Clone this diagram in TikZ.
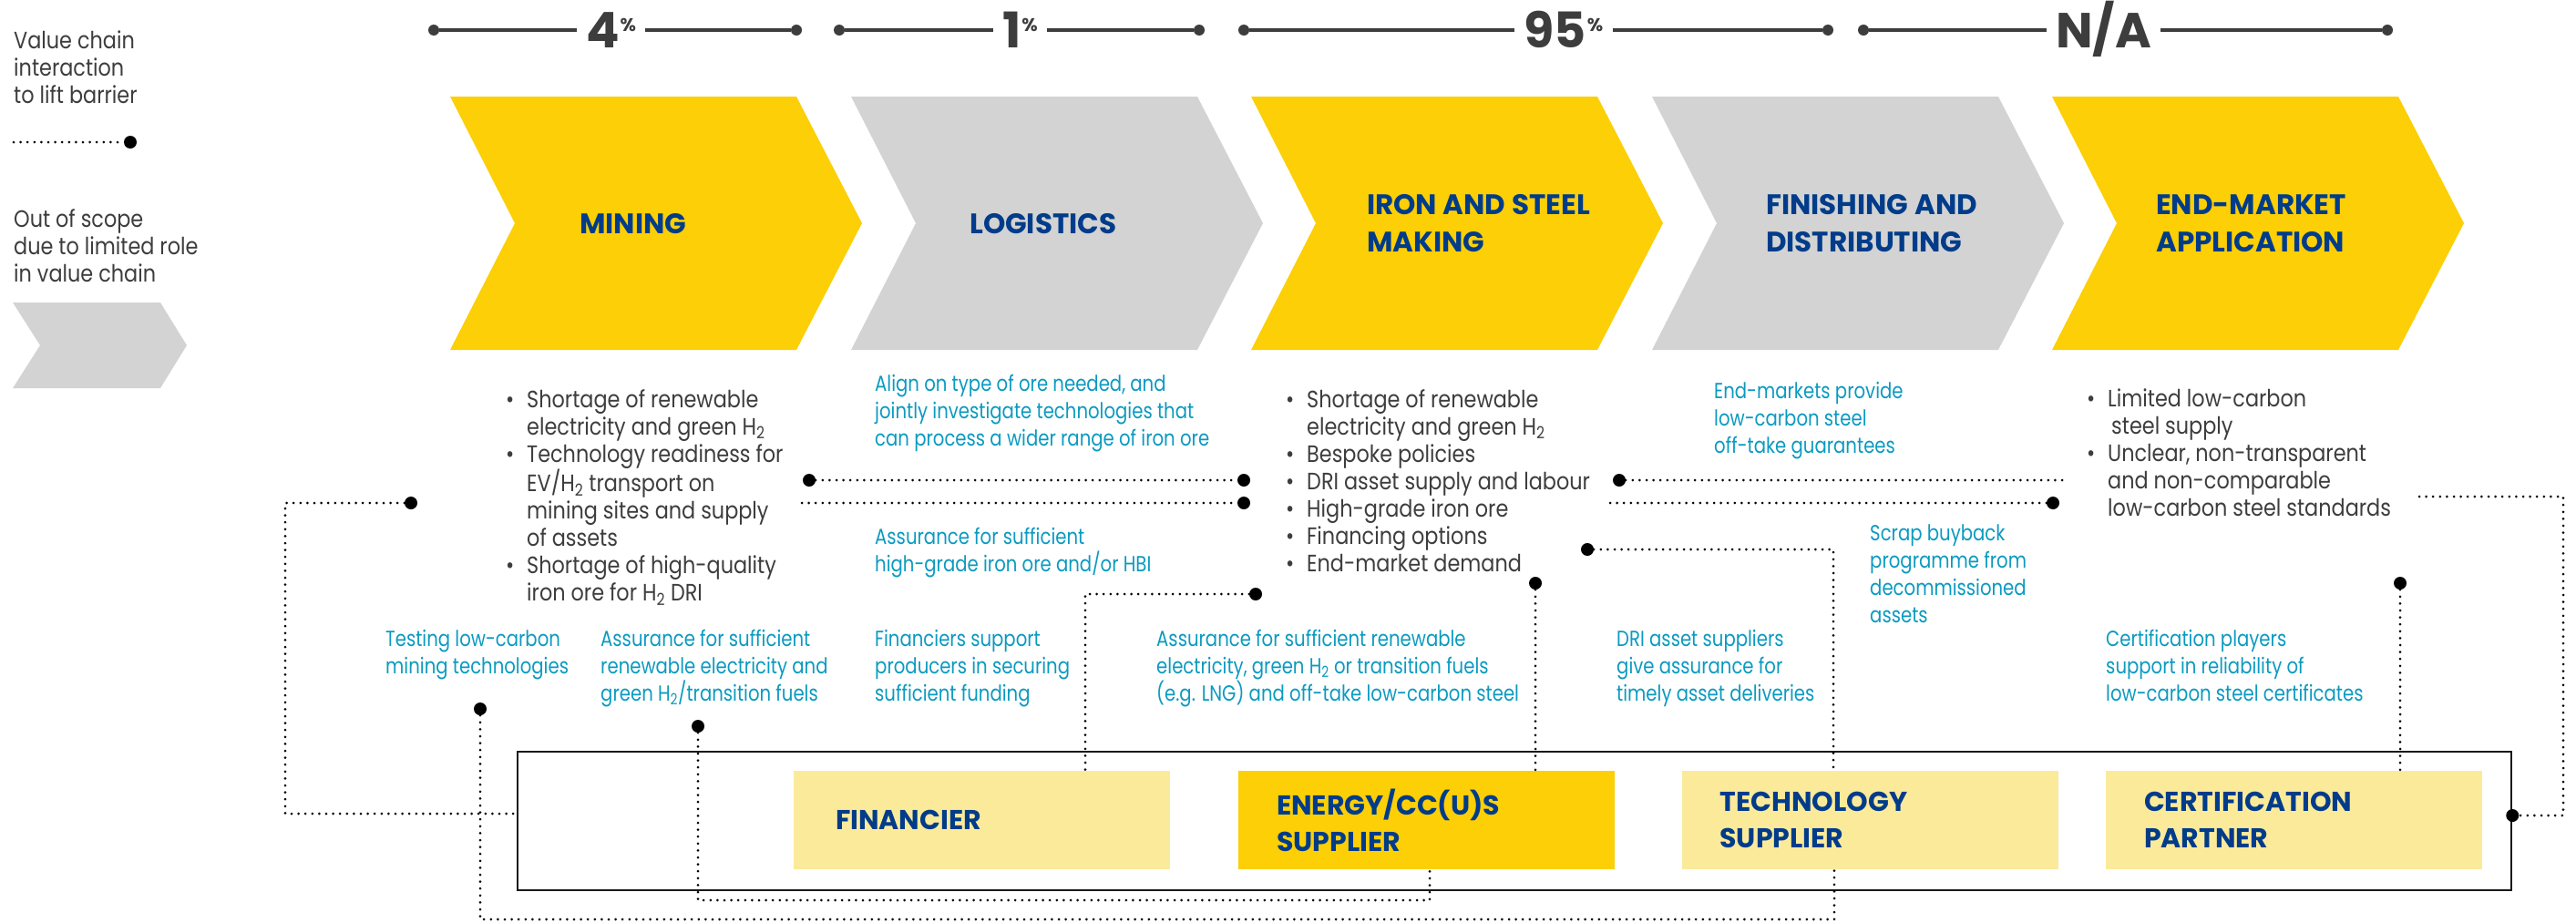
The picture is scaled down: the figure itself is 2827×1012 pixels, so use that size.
\documentclass[tikz,border=0pt]{standalone}
\usepackage{fontspec}
\setmainfont{Poppins}[FakeStretch=0.86]
\newfontfamily\hdfont{Poppins}
\newfontfamily\bluefont{Poppins}[FakeStretch=0.82]
\usetikzlibrary{calc}
\definecolor{cyel}{HTML}{FCCF06}
\definecolor{cgray}{HTML}{D3D3D3}
\definecolor{clyel}{HTML}{FBEA9A}
\definecolor{cblue}{HTML}{003C8A}
\definecolor{cteal}{HTML}{0B9AC0}
\definecolor{ctext}{HTML}{3D3D3D}
\newcommand\mychev[2]{\fill[#2] (#1,106) -- ++(380,0) -- ++(72,139) -- ++(-72,139) -- ++(-380,0) -- ++(71,-139) -- cycle;}
\newcommand\bl{\makebox[23pt][l]{\textbullet}}
\newcommand\ind{\hspace*{23pt}}
\newcommand\pct{{\hdfont\bfseries\fontsize{20}{20}\selectfont\hspace{1pt}\raisebox{18pt}{\%}}}
\begin{document}
\begin{tikzpicture}[x=1pt,y=-1pt,
  dotline/.style={line width=3pt, dash pattern=on 0pt off 7.6pt, line cap=round, draw=black},
  dotend/.style={circle, fill=black, inner sep=0pt, minimum size=14pt},
  topdot/.style={circle, fill=ctext, inner sep=0pt, minimum size=12pt},
  topline/.style={line width=4pt, draw=ctext},
  numlbl/.style={font=\hdfont\bfseries\fontsize{54}{54}\selectfont, text=ctext, inner xsep=10pt, inner ysep=0pt, anchor=base},
  graytxt/.style={font=\fontsize{26}{30}\selectfont, text=ctext, align=left, inner sep=0pt, anchor=north west},
  bluetxt/.style={font=\bluefont\fontsize{24}{30}\selectfont, text=cteal, align=left, inner sep=0pt, anchor=north west},
  stagelbl/.style={font=\hdfont\bfseries\fontsize{31}{41}\selectfont, text=cblue, align=left, inner sep=0pt, anchor=west},
  actor/.style={rectangle, minimum height=108pt, text width=329pt, inner xsep=42pt, inner ysep=0pt, align=left, font=\hdfont\bfseries\fontsize{30}{40}\selectfont, text=cblue},
]
\useasboundingbox (0,0) rectangle (2827,1012);

% ---------- legend ----------
\node[graytxt] (leg1) at (15,34) {Value chain\\interaction\\to lift barrier};
\coordinate (lega) at (15,156);
\node[dotend] (legdot) at (143,156) {};
\draw[dotline] (lega) -- (legdot);
\node[graytxt] (leg2) at (15,229) {Out of scope\\due to limited role\\in value chain};
\fill[cgray] (14,332) -- (176,332) -- (205,379) -- (176,426) -- (14,426) -- (44,379) -- cycle;

% ---------- top share labels ----------
\node[numlbl] (p1) at (670.5,52) {4\pct};
\node[topdot] (t1a) at (476,33) {};
\node[topdot] (t1b) at (874,33) {};
\draw[topline] (t1a) -- (t1a -| p1.west);
\draw[topline] (p1.east |- t1b) -- (t1b);

\node[numlbl] (p2) at (1119.5,52) {1\pct};
\node[topdot] (t2a) at (921,33) {};
\node[topdot] (t2b) at (1316,33) {};
\draw[topline] (t2a) -- (t2a -| p2.west);
\draw[topline] (p2.east |- t2b) -- (t2b);

\node[numlbl] (p3) at (1716,52) {95\pct};
\node[topdot] (t3a) at (1365,33) {};
\node[topdot] (t3b) at (2006,33) {};
\draw[topline] (t3a) -- (t3a -| p3.west);
\draw[topline] (p3.east |- t3b) -- (t3b);

\node[numlbl] (p4) at (2308.5,52) {N/A};
\node[topdot] (t4a) at (2045,33) {};
\node[topdot] (t4b) at (2620,33) {};
\draw[topline] (t4a) -- (t4a -| p4.west);
\draw[topline] (p4.east |- t4b) -- (t4b);

% ---------- chevrons ----------
\mychev{494}{cyel}
\mychev{934}{cgray}
\mychev{1373}{cyel}
\mychev{1813}{cgray}
\mychev{2252}{cyel}
\node[stagelbl] (s1) at (636,246) {MINING};
\node[stagelbl] (s2) at (1064,246) {LOGISTICS};
\node[stagelbl] (s3) at (1500,245.5) {IRON AND STEEL\\MAKING};
\node[stagelbl] (s4) at (1938,245.5) {FINISHING AND\\DISTRIBUTING};
\node[stagelbl] (s5) at (2366,245.5) {END-MARKET\\APPLICATION};

% ---------- barriers ----------
\node[graytxt] (b1) at (555,427) {\bl Shortage of renewable\\\ind electricity and green H\textsubscript{2}\\\bl Technology readiness for\\\ind EV/H\textsubscript{2} transport on\\\ind mining sites and supply\\\ind of assets\\\bl Shortage of high-quality\\\ind iron ore for H\textsubscript{2} DRI};
\node[graytxt] (b3) at (1411,427) {\bl Shortage of renewable\\\ind electricity and green H\textsubscript{2}\\\bl Bespoke policies\\\bl DRI asset supply and labour\\\bl High-grade iron ore\\\bl Financing options\\\bl End-market demand};
\node[graytxt] (b5) at (2290,427) {\bl Limited low-carbon\\\hspace*{27pt}steel supply\\\bl Unclear, non-transparent\\\ind and non-comparable\\\ind low-carbon steel standards};

% ---------- interactions ----------
\node[bluetxt] (i1) at (960,411) {Align on type of ore needed, and\\jointly investigate technologies that\\can process a wider range of iron ore};
\node[bluetxt] (i2) at (960,579) {Assurance for sufficient\\high-grade iron ore and/or HBI};
\node[bluetxt] (i3) at (1881,419) {End-markets provide\\low-carbon steel\\off-take guarantees};
\node[bluetxt] (i4) at (2052,576) {Scrap buyback\\programme from\\decommissioned\\assets};
\node[bluetxt] (i5) at (423,691) {Testing low-carbon\\mining technologies};
\node[bluetxt] (i6) at (659,691) {Assurance for sufficient\\renewable electricity and\\green H\textsubscript{2}/transition fuels};
\node[bluetxt] (i7) at (960,691) {Financiers support\\producers in securing\\sufficient funding};
\node[bluetxt] (i8) at (1269,691) {Assurance for sufficient renewable\\electricity, green H\textsubscript{2} or transition fuels\\(e.g. LNG) and off-take low-carbon steel};
\node[bluetxt] (i9) at (1774,691) {DRI asset suppliers\\give assurance for\\timely asset deliveries};
\node[bluetxt] (i10) at (2311,691) {Certification players\\support in reliability of\\low-carbon steel certificates};

% ---------- actors ----------
\node[draw=black!90, line width=2.5pt, minimum width=2188pt, minimum height=152pt, inner sep=0pt] (frame) at (1662,901) {};
\node[actor, fill=clyel, inner xsep=46pt, text width=321pt] (fin) at (1077.5,900) {FINANCIER};
\node[actor, fill=cyel] (ene) at (1565.5,900) {ENERGY/CC(U)S\\SUPPLIER};
\node[actor, fill=clyel] (tec) at (2052,900) {TECHNOLOGY\\SUPPLIER};
\node[actor, fill=clyel] (cer) at (2517.5,900) {CERTIFICATION\\PARTNER};

% ---------- connectors ----------
% mining -> frame
\node[dotend] (dm) at (451,552) {};
\coordinate (cm) at (313,552);
\draw[dotline] (dm) -- (cm) |- ([yshift=8pt]frame.west);
% logistics lines
\node[dotend] (dla) at (888,527) {};
\node[dotend] (dlb) at (1365,527) {};
\draw[dotline] (dla) -- (dlb);
\coordinate (cla) at (880,552);
\node[dotend] (dlc) at (1365,552) {};
\draw[dotline] (cla) -- (dlc);
% finishing lines
\node[dotend] (dfa) at (1777,527) {};
\coordinate (cfa) at (2263,527);
\draw[dotline] (dfa) -- (cfa);
\coordinate (cfb) at (1767,552);
\node[dotend] (dfb) at (2253,552) {};
\draw[dotline] (cfb) -- (dfb);
% technology supplier (DRI assets)
\node[dotend] (dte) at (1742,603) {};
\draw[dotline] (dte) -| ([xshift=-40pt]tec.north);
% financier
\node[dotend] (dfi) at (1378,652) {};
\draw[dotline] (dfi) -| ([xshift=113.5pt]fin.north);
% energy
\node[dotend] (den) at (1685,640) {};
\draw[dotline] (den) -- ([xshift=119.5pt]ene.north);
% certification
\node[dotend] (dce) at (2634,640) {};
\draw[dotline] (dce) -- ([xshift=116.5pt]cer.north);
% end-market -> frame right
\coordinate (cr1) at (2655,545);
\coordinate (cr2) at (2813,545);
\node[dotend] (dr) at ([yshift=6pt]frame.east) {};
\draw[dotline] (cr1) -- (cr2) |- (dr);
% testing low-carbon mining tech -> technology supplier
\node[dotend] (dtm) at (527,778) {};
\coordinate (cbt) at (2013,1009);
\draw[dotline] (dtm) |- (cbt) -- ([xshift=-39pt]tec.south);
% assurance renewables -> energy supplier
\node[dotend] (dre) at (766,797) {};
\coordinate (cbe) at (1569,988);
\draw[dotline] (dre) |- (cbe) -- ([xshift=3.5pt]ene.south);
\end{tikzpicture}
\end{document}
